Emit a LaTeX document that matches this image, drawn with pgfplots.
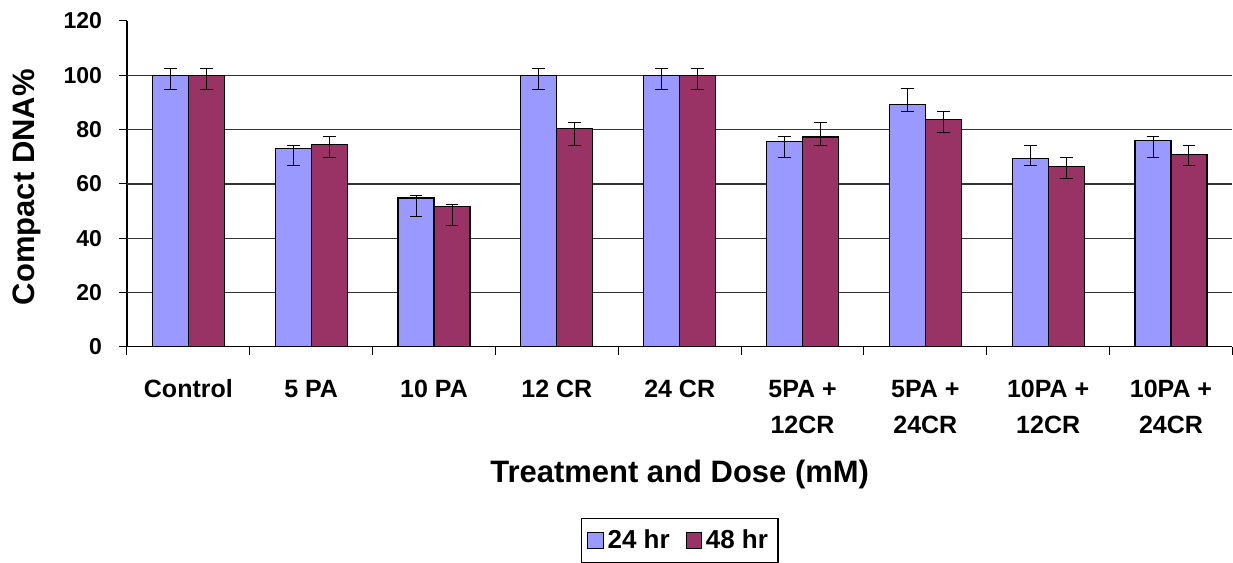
\documentclass[border=0pt]{standalone}
\usepackage{pgfplots}
\pgfplotsset{compat=1.18}
\usepackage{fontspec}
\setmainfont{Liberation Sans}
\definecolor{c24}{HTML}{9999FF}
\definecolor{c48}{HTML}{993366}
\begin{document}
\begin{tikzpicture}
\begin{axis}[
  scale only axis,
  width=553pt, height=163pt,
  ybar=0pt, bar width=18pt,
  xmin=-0.5, xmax=8.5,
  ymin=0, ymax=120,
  ytick={0,20,...,120},
  extra y ticks={20,40,60,80,100},
  extra y tick labels={},
  extra y tick style={ymajorgrids=true, major tick length=0pt},
  xtick={0,...,8},
  xticklabels={Control,5 PA,10 PA,12 CR,24 CR,{5PA +\\12CR},{5PA +\\24CR},{10PA +\\12CR},{10PA +\\24CR}},
  minor xtick={-0.5,0.5,...,8.5},
  major x tick style={draw=none},
  minor tick length=4pt,
  major tick length=4pt,
  tick align=outside,
  tick style={black, line width=0.5pt},
  axis lines*=left,
  axis line style={black, line width=0.6pt},
  grid style={black!80, line width=0.6pt},
  /pgf/number format/assume math mode=true,
  xticklabel style={align=center, yshift=-9pt, font=\bfseries\fontsize{12.5}{18}\selectfont},
  yticklabel style={xshift=-5pt, font=\bfseries\fontsize{11.5}{13}\selectfont},
  xlabel={\bfseries Treatment and Dose (mM)},
  ylabel={\bfseries Compact DNA\%},
  label style={font=\bfseries\fontsize{15.5}{18}\selectfont},
  xlabel style={at={(axis description cs:0.5,0)}, anchor=center, yshift=-64pt},
  ylabel style={at={(axis description cs:-0.0904,0.49)}, anchor=center},
  legend columns=2,
  legend style={at={(0.5,-0.525)}, anchor=north, draw=black, line width=0.6pt,
    font=\bfseries\fontsize{13}{15}\selectfont, inner xsep=3pt, inner ysep=3.5pt,
    /tikz/every even column/.append style={column sep=6pt}},
  legend image code/.code={\draw[#1, line width=0.5pt] (0pt,-3.8pt) rectangle (7.6pt,3.8pt);},
  error bars/y dir=both, error bars/y explicit,
  error bars/error bar style={black, line width=0.5pt},
  error bars/error mark options={rotate=90, mark size=3.2pt, black, line width=0.5pt},
]
\addplot[fill=c24, draw=black, line width=0.6pt] coordinates {
  (0,100) += (0,2.6) -= (0,5.1)
  (1,72.9) += (0,1.2) -= (0,6.2)
  (2,54.8) += (0,0.8) -= (0,6.8)
  (3,100) += (0,2.6) -= (0,5.1)
  (4,100) += (0,2.6) -= (0,5.1)
  (5,75.5) += (0,2.1) -= (0,5.6)
  (6,89.3) += (0,5.7) -= (0,2.8)
  (7,69.3) += (0,5.0) -= (0,2.6)
  (8,76.1) += (0,1.5) -= (0,6.2)
};
\addplot[fill=c48, draw=black, line width=0.6pt] coordinates {
  (0,100) += (0,2.6) -= (0,5.1)
  (1,74.6) += (0,3.0) -= (0,4.7)
  (2,51.7) += (0,0.9) -= (0,7.0)
  (3,80.4) += (0,2.3) -= (0,6.1)
  (4,100) += (0,2.6) -= (0,5.1)
  (5,77.3) += (0,5.4) -= (0,3.0)
  (6,83.6) += (0,3.0) -= (0,4.8)
  (7,66.3) += (0,3.4) -= (0,4.2)
  (8,70.7) += (0,3.6) -= (0,4.0)
};
\legend{24 hr, 48 hr}
\end{axis}
\path (current axis.south west) ++(-63.5pt,0pt);
\path (current axis.north west) ++(0pt,10.5pt);
\end{tikzpicture}
\end{document}
